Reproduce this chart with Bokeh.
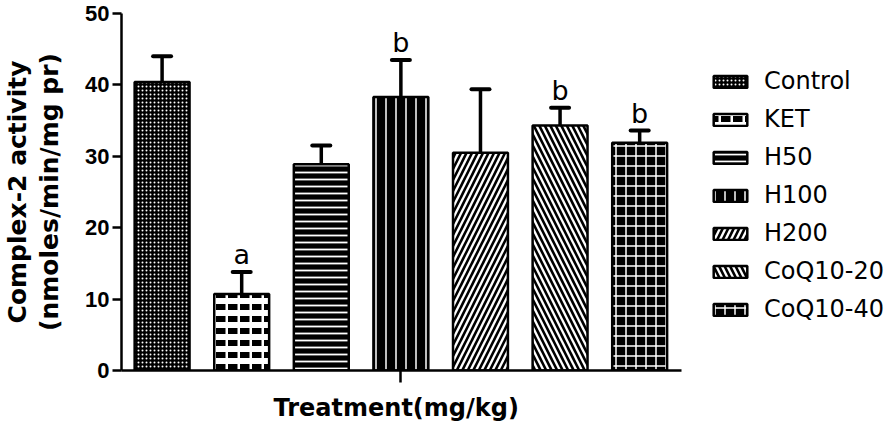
import numpy as np
from bokeh.plotting import figure
from bokeh.models import (ColumnDataSource, Range1d, FixedTicker, Whisker, TeeHead,
                          Legend, LegendItem, Title)
from bokeh.core.properties import value
from bokeh.embed import file_html
from bokeh.resources import INLINE

# ---- data ----
groups = ["Control", "KET", "H50", "H100", "H200", "CoQ10-20", "CoQ10-40"]
means = [40.4, 10.7, 28.9, 38.3, 30.5, 34.3, 31.9]
sem = [3.6, 3.1, 2.6, 5.2, 8.9, 2.5, 1.7]
letters = ["", "a", "", "b", "", "b", "b"]
y_ticks = [0, 10, 20, 30, 40, 50]
x_title = "Treatment(mg/kg)"
y_title = "Complex-2 activity\n(nmoles/min/mg pr)"

TICK_FONT = "Liberation Sans"
FONT = "DejaVu Sans"

# ---- bar fill styles (style only) ----
styles = [
    dict(fill_color="black", hatch_pattern="dot", hatch_color="white", hatch_scale=4, hatch_weight=1),
    dict(fill_color="white", hatch_pattern="horizontal_dash", hatch_color="black", hatch_scale=12, hatch_weight=6),
    dict(fill_color="black", hatch_pattern="horizontal_line", hatch_color="white", hatch_scale=7, hatch_weight=1.8),
    dict(fill_color="black", hatch_pattern="vertical_line", hatch_color="white", hatch_scale=10, hatch_weight=1.5),
    dict(fill_color="white", hatch_pattern="right_diagonal_line", hatch_color="black", hatch_scale=11, hatch_weight=2.6),
    dict(fill_color="white", hatch_pattern="left_diagonal_line", hatch_color="black", hatch_scale=11, hatch_weight=2.6),
    dict(fill_color="black", hatch_pattern="cross", hatch_color="white", hatch_scale=10, hatch_weight=1.5),
]

xs = list(range(len(groups)))
upper = [m + s for m, s in zip(means, sem)]
src = ColumnDataSource(dict(x=xs, top=means, upper=upper, letters=letters))

# layout: frame spans to the right edge; the axis line is bounded to the bar area
W, H = 894, 430
LEFT, TOP, BOTTOM = 119, 13, 59
x0, x1 = -0.51, 6.52          # visible axis extent
axis_px = 561                 # pixel length of the visible x axis
frame_w = W - LEFT
x_end = x0 + (x1 - x0) * frame_w / axis_px

p = figure(width=W, height=H, output_backend="svg", toolbar_location=None,
           x_range=Range1d(x0, x_end), y_range=Range1d(0, 50),
           min_border_left=LEFT, min_border_right=0, min_border_top=TOP, min_border_bottom=BOTTOM)
p.outline_line_color = None
p.xgrid.visible = False
p.ygrid.visible = False

items = []
for i, g in enumerate(groups):
    sub = ColumnDataSource(dict(x=[xs[i]], top=[means[i]]))
    r = p.vbar(x="x", top="top", width=0.69, source=sub, line_color="black", line_width=2.5,
               **styles[i])
    items.append(LegendItem(label=g, renderers=[r]))

w = Whisker(base="x", lower="top", upper="upper", source=src, dimension="height",
            lower_head=None,
            upper_head=TeeHead(size=18, line_width=4, line_cap="round"),
            line_width=3.5, line_color="black")
p.add_layout(w)

p.text(x="x", y="upper", text="letters", source=src, text_align="center",
       text_baseline="alphabetic", y_offset=-17, text_font=value(FONT),
       text_font_size="27px", text_color="black")

# y axis
yax = p.yaxis[0]
yax.ticker = FixedTicker(ticks=y_ticks)
yax.minor_tick_line_color = None
yax.major_tick_in = 0
yax.major_tick_out = 9
yax.axis_line_width = 2.5
yax.major_tick_line_width = 2.5
yax.major_label_text_font = TICK_FONT
yax.major_label_text_font_style = "bold"
yax.major_label_text_font_size = "22px"
yax.major_label_text_color = "black"
yax.major_label_standoff = 3
yax.axis_label = y_title
yax.axis_label_text_font = FONT
yax.axis_label_text_font_style = "bold"
yax.axis_label_text_font_size = "25px"
yax.axis_label_text_line_height = 1.1
yax.axis_label_text_color = "black"
yax.axis_label_standoff = 18

# x axis (single centre tick, no tick labels)
xax = p.xaxis[0]
xax.bounds = (x0, x1)
xax.ticker = FixedTicker(ticks=[3])
xax.minor_tick_line_color = None
xax.major_tick_in = 0
xax.major_tick_out = 12
xax.axis_line_width = 2.5
xax.major_tick_line_width = 2.5
xax.major_label_overrides = {3: ""}
xax.major_label_text_font_size = "1px"
xax.major_label_standoff = 0

# x-axis title, centred under the bars (the frame is wider than the bar area)
p.add_layout(Title(text=x_title, align="left", offset=152, vertical_align="bottom",
                   standoff=18, text_font=FONT, text_font_style="bold",
                   text_font_size="24px", text_color="black"), "below")

# legend inside the (wide) frame, to the right of the bars
legend = Legend(items=items, location=(588, 46), orientation="vertical",
                label_text_font=FONT, label_text_font_size="24px", label_text_color="black",
                glyph_width=42, glyph_height=15, label_standoff=13, spacing=8, label_height=30,
                border_line_color=None, background_fill_alpha=0, padding=0, margin=0)
p.add_layout(legend)

open("out.html", "w").write(file_html(p, INLINE))
